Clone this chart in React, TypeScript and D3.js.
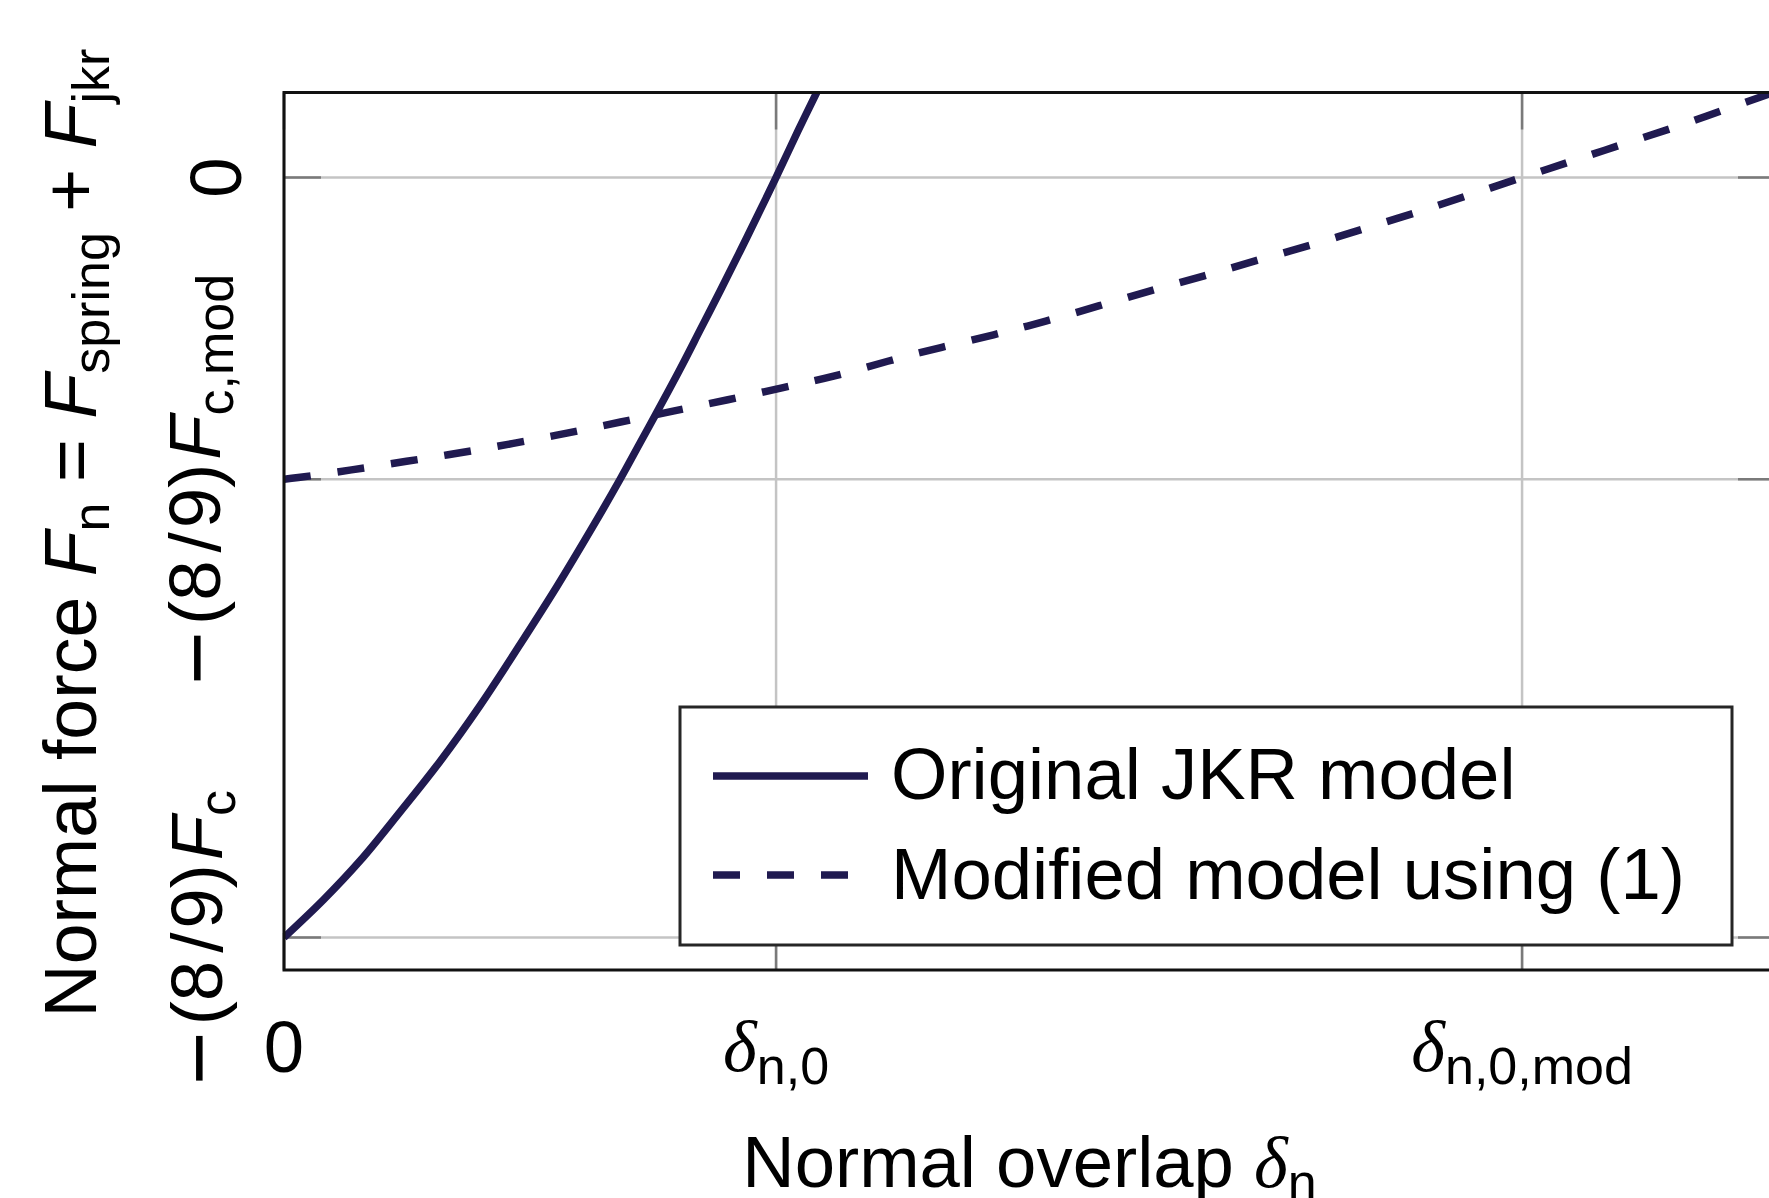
import * as d3 from 'd3';
import React from 'react';

// axis limits, in units of delta_n,0 (x) and F_c (y)
const xDomain = [0, 3.03];
const yDomain = [-0.927, 0.0994];
const xTicks = [0, 1, 2.516];
const yTicks = [-0.889, -0.353, 0];

// Original JKR model (solid)
const jkrDelta = [0, 0.080, 0.155, 0.236, 0.317, 0.398, 0.480, 0.554, 0.629, 0.683, 0.724, 0.764, 0.805, 0.846, 0.886, 0.927, 0.968, 1.0, 1.045, 1.083];
const jkrForce = [-0.889, -0.845, -0.799, -0.742, -0.683, -0.618, -0.546, -0.479, -0.407, -0.353, -0.310, -0.268, -0.224, -0.178, -0.133, -0.086, -0.038, 0, 0.055, 0.100];

// Modified model using (1) (dashed)
const modDelta = [0, 0.029, 0.137, 0.249, 0.358, 0.466, 0.575, 0.684, 0.793, 0.902, 1.012, 1.119, 1.278, 1.442, 1.548, 1.657, 1.764, 1.870, 1.977, 2.087, 2.189, 2.295, 2.401, 2.516, 2.611, 2.716, 2.822, 2.926, 3.03];
const modForce = [-0.353, -0.351, -0.342, -0.332, -0.322, -0.311, -0.299, -0.286, -0.273, -0.260, -0.246, -0.232, -0.207, -0.184, -0.168, -0.150, -0.132, -0.115, -0.097, -0.079, -0.061, -0.042, -0.022, 0, 0.018, 0.038, 0.058, 0.079, 0.100];

const legendLabels = ['Original JKR model', 'Modified model using (1)'];

const W = 1769, H = 1198;
const sans = '"Liberation Sans", Arial, Helvetica, sans-serif';
const serif = '"Liberation Serif", "Times New Roman", serif';
const lineColor = '#201a50';

export default function App() {
    const box = { left: 284, right: 1775, top: 92.5, bottom: 970 };
    const x = d3.scaleLinear().domain(xDomain).range([box.left, box.right]);
    const y = d3.scaleLinear().domain(yDomain).range([box.bottom, box.top]);

    const line = d3.line<[number, number]>()
        .x(d => x(d[0]))
        .y(d => y(d[1]))
        .curve(d3.curveCatmullRom.alpha(0.5));

    const jkr = line(jkrDelta.map((d, i) => [d, jkrForce[i]]));
    const mod = line(modDelta.map((d, i) => [d, modForce[i]]));

    const tickLen = 37;
    const fs = 72.5, sub = 52, subDy = 13;
    const lw = 7.5;

    const legend = { x: 680, y: 707, w: 1052, h: 238 };

    // long minus sign, lowered back to the math axis
    const minus = <tspan fontSize={92} dy={8}>−</tspan>;

    return (
        <svg width={W} height={H} style={{ position: 'absolute', left: 0, top: 0, background: '#fff' }}
            fontFamily={sans}>
            <defs>
                <clipPath id="plot">
                    <rect x={box.left} y={box.top} width={box.right - box.left} height={box.bottom - box.top} />
                </clipPath>
            </defs>
            <rect width={W} height={H} fill="#fff" />

            {/* grid */}
            <g stroke="#c4c4c4" strokeWidth={2.5}>
                {xTicks.map(t => <line key={'gx' + t} x1={x(t)} x2={x(t)} y1={box.top} y2={box.bottom} />)}
                {yTicks.map(t => <line key={'gy' + t} x1={box.left} x2={box.right} y1={y(t)} y2={y(t)} />)}
            </g>
            {/* inward ticks on all sides */}
            <g stroke="#7a7a7a" strokeWidth={2.5}>
                {xTicks.map(t => <g key={'tx' + t}>
                    <line x1={x(t)} x2={x(t)} y1={box.top} y2={box.top + tickLen} />
                    <line x1={x(t)} x2={x(t)} y1={box.bottom} y2={box.bottom - tickLen} />
                </g>)}
                {yTicks.map(t => <g key={'ty' + t}>
                    <line x1={box.left} x2={box.left + tickLen} y1={y(t)} y2={y(t)} />
                    <line x1={box.right} x2={box.right - tickLen} y1={y(t)} y2={y(t)} />
                </g>)}
            </g>

            {/* curves */}
            <g clipPath="url(#plot)" fill="none" stroke={lineColor} strokeWidth={lw}>
                <path d={jkr} />
                <path d={mod} strokeDasharray="27 27" />
            </g>

            {/* axes box */}
            <rect x={box.left} y={box.top} width={box.right - box.left} height={box.bottom - box.top}
                fill="none" stroke="#111" strokeWidth={3} />

            {/* legend */}
            <g>
                <rect x={legend.x} y={legend.y} width={legend.w} height={legend.h} fill="#fff" stroke="#262626" strokeWidth={3} />
                <line x1={713} x2={868} y1={776} y2={776} stroke={lineColor} strokeWidth={lw} />
                <line x1={713} x2={868} y1={875} y2={875} stroke={lineColor} strokeWidth={lw} strokeDasharray="27 27" />
                <text x={891} y={799} fontSize={fs}>{legendLabels[0]}</text>
                <text x={891} y={899} fontSize={fs}>{legendLabels[1]}</text>
            </g>

            {/* x tick labels */}
            <g fontSize={fs} textAnchor="middle">
                <text x={x(xTicks[0])} y={1072}>0</text>
                <text x={x(xTicks[1])} y={1071}>
                    <tspan fontFamily={serif} fontStyle="italic">δ</tspan>
                    <tspan fontSize={sub} dy={subDy}>n,0</tspan>
                </text>
                <text x={x(xTicks[2])} y={1071}>
                    <tspan fontFamily={serif} fontStyle="italic">δ</tspan>
                    <tspan fontSize={sub} dy={subDy}>n,0,mod</tspan>
                </text>
            </g>

            {/* y tick labels, rotated */}
            <g fontSize={fs} textAnchor="middle">
                <text transform={`translate(241, ${y(yTicks[2])}) rotate(-90)`}>0</text>
                <text transform={`translate(220, ${y(yTicks[1])}) rotate(-90)`}>
                    {minus}
                    <tspan dx={6} dy={-8}>(8</tspan>
                    <tspan dx={8}>/</tspan>
                    <tspan dx={4}>9)</tspan>
                    <tspan dx={4} fontStyle="italic">F</tspan>
                    <tspan fontSize={sub} dy={subDy}>c,mod</tspan>
                </text>
                <text transform={`translate(222, ${y(yTicks[0])}) rotate(-90)`}>
                    {minus}
                    <tspan dx={6} dy={-8}>(8</tspan>
                    <tspan dx={8}>/</tspan>
                    <tspan dx={4}>9)</tspan>
                    <tspan dx={4} fontStyle="italic">F</tspan>
                    <tspan fontSize={sub} dy={subDy}>c</tspan>
                </text>
            </g>

            {/* axis titles */}
            <text x={(box.left + box.right) / 2} y={1187} fontSize={fs} textAnchor="middle">
                {'Normal overlap '}
                <tspan fontFamily={serif} fontStyle="italic">δ</tspan>
                <tspan fontSize={sub} dy={subDy}>n</tspan>
            </text>
            <text transform={`translate(96, 533) rotate(-90)`} fontSize={73.5} textAnchor="middle">
                {'Normal force '}
                <tspan fontStyle="italic">F</tspan>
                <tspan fontSize={sub} dy={subDy}>n</tspan>
                <tspan dy={-subDy}>{' = '}</tspan>
                <tspan fontStyle="italic">F</tspan>
                <tspan fontSize={sub} dy={subDy}>spring</tspan>
                <tspan dy={-subDy}>{' + '}</tspan>
                <tspan fontStyle="italic">F</tspan>
                <tspan fontSize={sub} dy={subDy}>jkr</tspan>
            </text>
        </svg>
    );
}
